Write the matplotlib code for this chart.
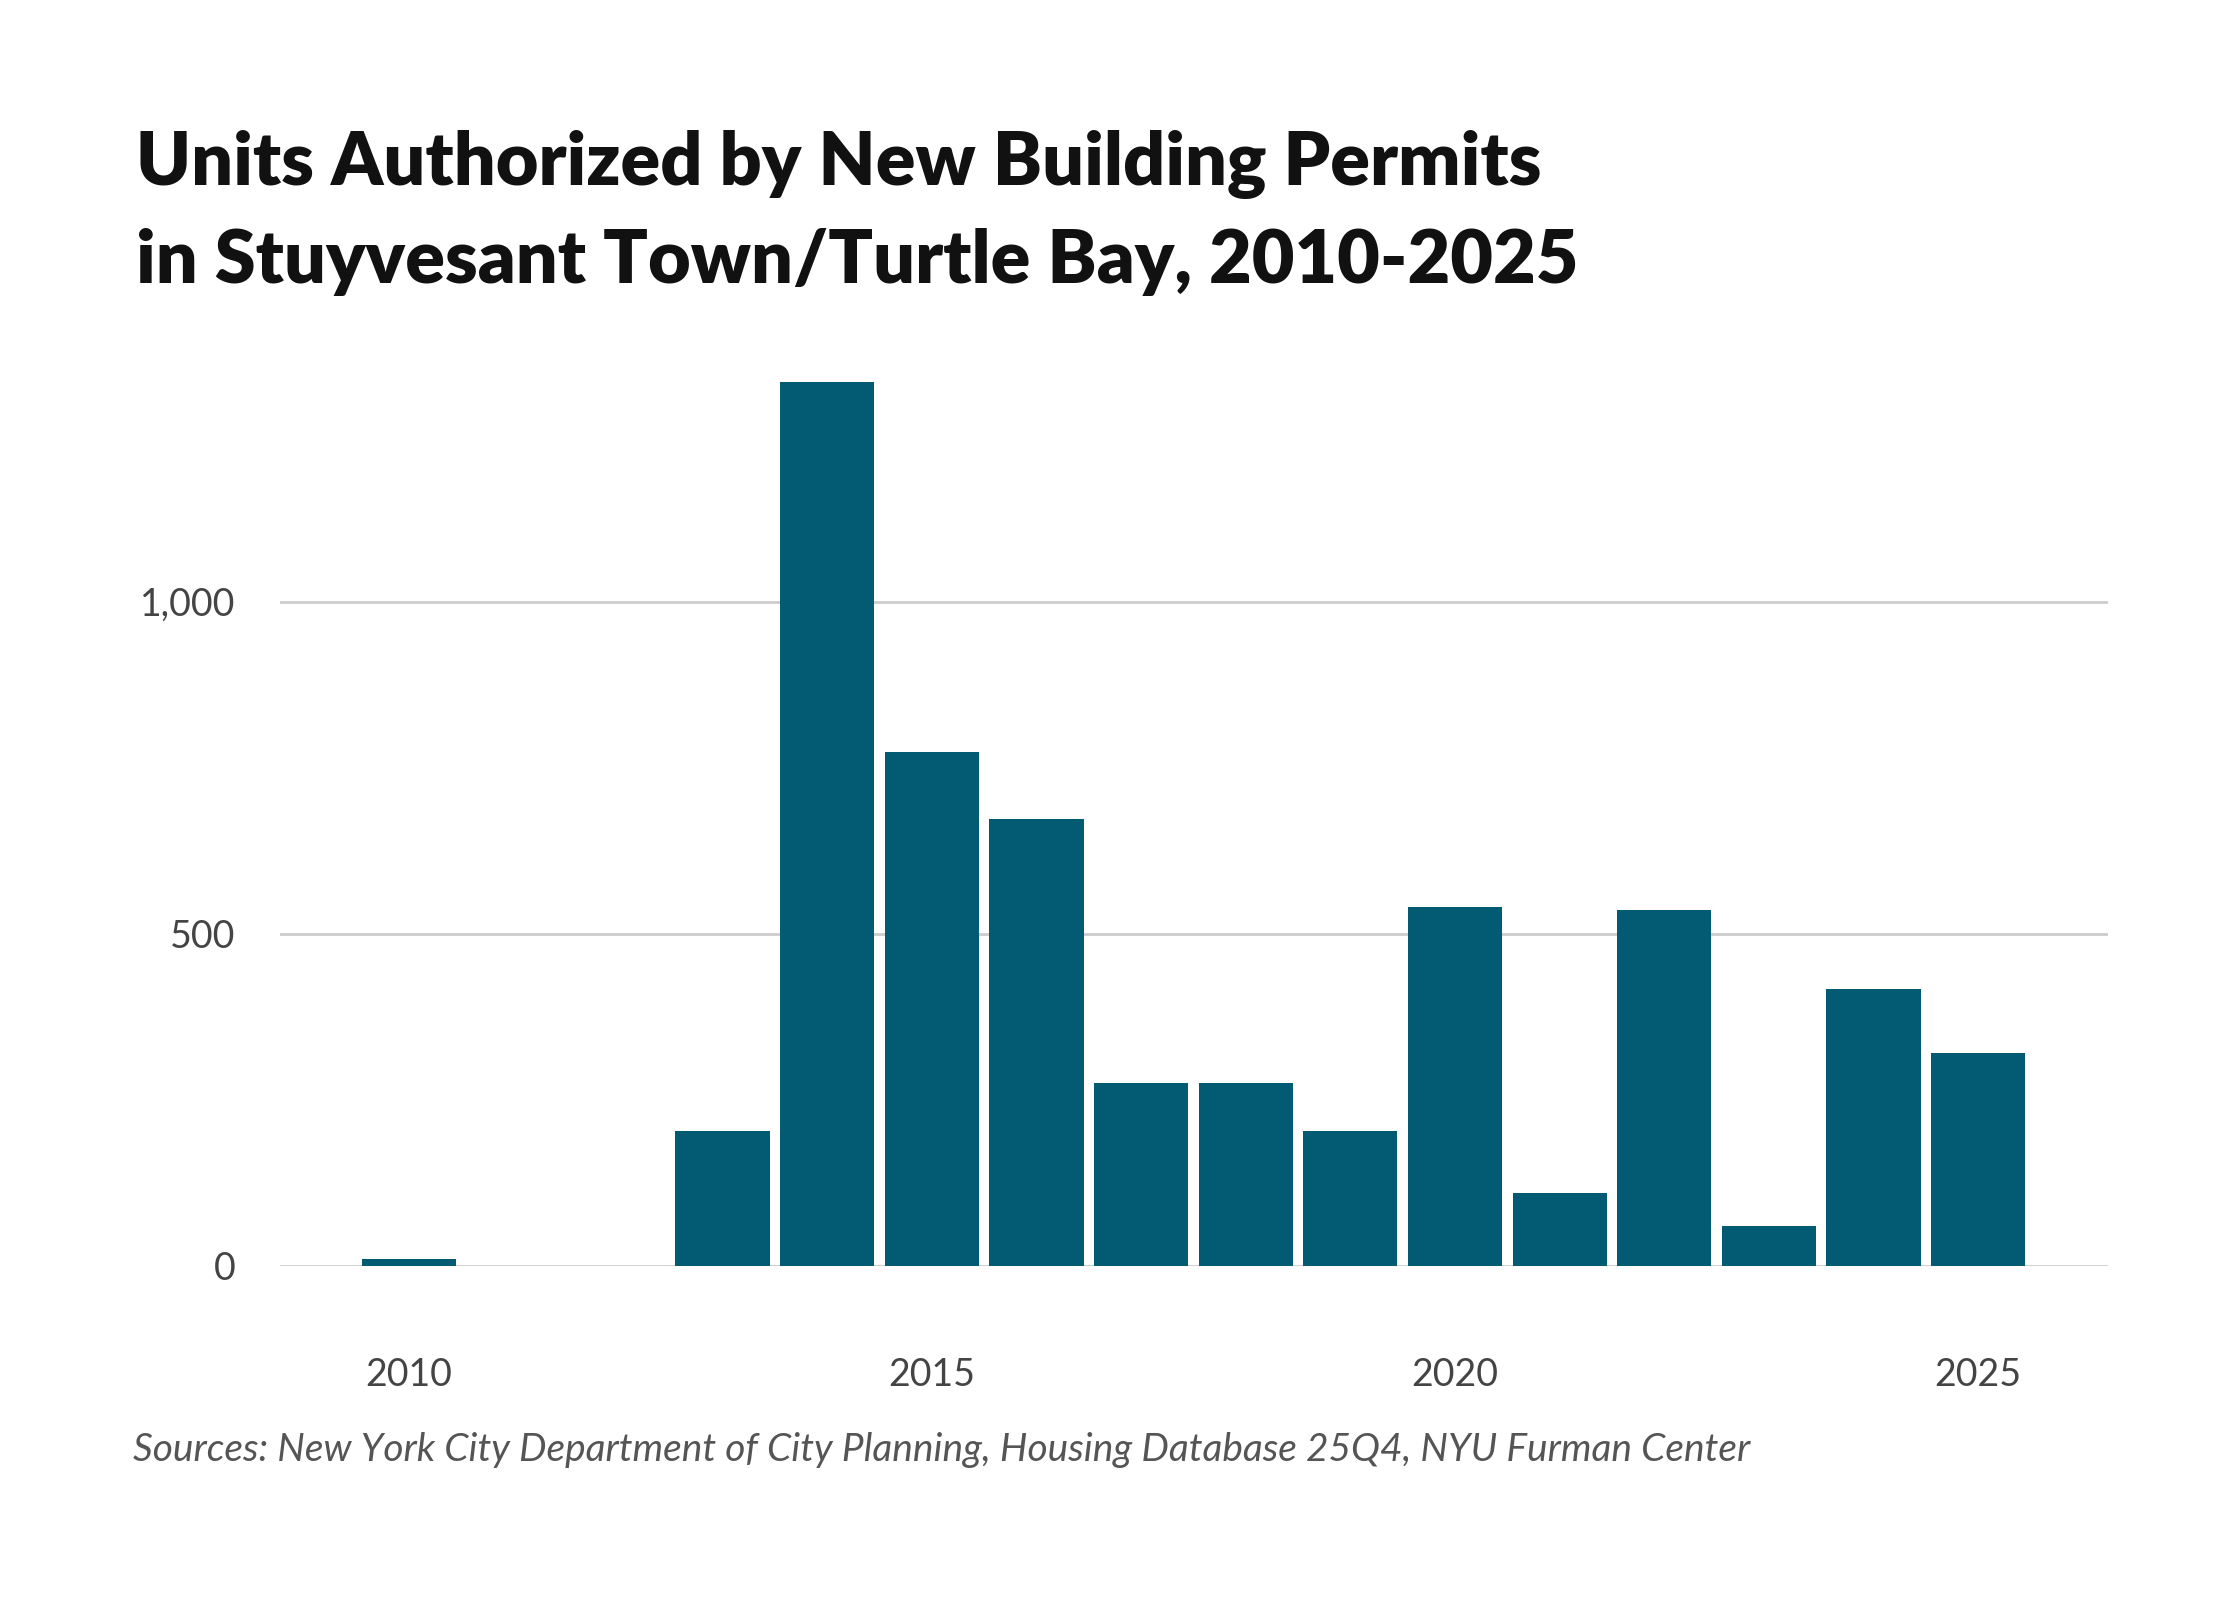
import numpy as np
import matplotlib
matplotlib.use('Agg')
import matplotlib.pyplot as plt

# Данные: годы и количество разрешённых квартир
years = [2010, 2011, 2012, 2013, 2014, 2015, 2016, 2017,
         2018, 2019, 2020, 2021, 2022, 2023, 2024, 2025]
units = [10, 0, 0, 202, 1331, 774, 673, 275,
         275, 202, 540, 110, 535, 60, 417, 320]
tick_years = [2010, 2015, 2020, 2025]
y_ticks = [0, 500, 1000]
y_tick_labels = ['0', '500', '1,000']

title = ('Units Authorized by New Building Permits\n'
         'in Stuyvesant Town/Turtle Bay, 2010-2025')
source = 'Sources: New York City Department of City Planning, Housing Database 25Q4, NYU Furman Center'

plt.rcParams['font.family'] = ['Lato', 'DejaVu Sans']

fig = plt.figure(figsize=(11.2, 8), dpi=200)
ax = fig.add_axes([0.125, 0.209, 0.816, 0.581])

# Столбцы
ax.bar(years, units, width=0.9, color='#035a73', zorder=3)

ax.set_xlim(2008.77, 2026.24)
ax.set_ylim(0, 1400)

# Сетка только по оси Y
ax.set_yticks(y_ticks)
ax.set_yticklabels(y_tick_labels)
ax.grid(axis='y', color='#cccccc', linewidth=1.0, zorder=0)
ax.set_xticks(tick_years)

for side in ['top', 'right', 'left', 'bottom']:
    ax.spines[side].set_visible(False)

ax.tick_params(axis='x', length=0, pad=33, labelsize=13.5, labelcolor='#444444')
ax.tick_params(axis='y', length=0, pad=16, labelsize=13.5, labelcolor='#444444')

# Заголовок и источник
fig.text(0.0606, 0.867, title, fontsize=26.5, fontweight='heavy', color='#111111',
         ha='left', va='center', linespacing=1.52)
fig.text(0.0595, 0.094, source, fontsize=14, style='italic',
         color='#555555', ha='left', va='center')

fig.savefig('out.png', dpi=200)
